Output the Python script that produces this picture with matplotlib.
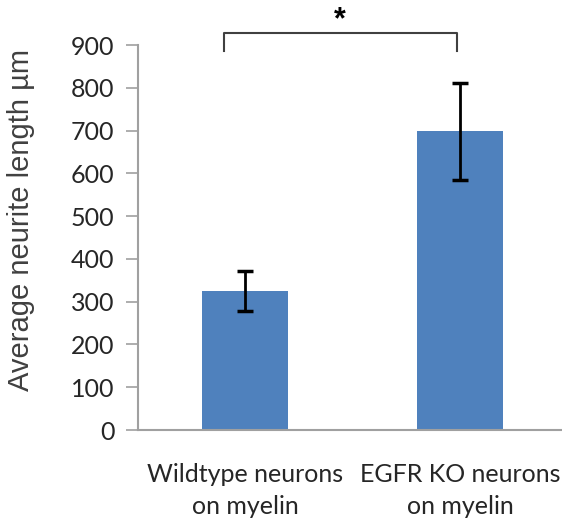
import matplotlib
matplotlib.use("Agg")
import matplotlib.pyplot as plt

# Values
categories = ["Wildtype neurons\non myelin", "EGFR KO neurons\non myelin"]
means = [325, 698]
errors = [47, 113]
yticks = [0, 100, 200, 300, 400, 500, 600, 700, 800, 900]
bracket_y = 928
bracket_drop = 885

BAR_COLOR = "#4F81BD"
AXIS_COLOR = "#A0A0A0"
TEXT_COLOR = "#262626"

plt.rcParams["font.family"] = ["Lato", "DejaVu Sans"]

fig = plt.figure(figsize=(5.62, 5.22), dpi=100)
ax = fig.add_axes([138 / 562, 92 / 522, 430 / 562, 385 / 522])

x = list(range(len(categories)))
ax.bar(x, means, width=0.4, color=BAR_COLOR, zorder=2)
ax.errorbar(x, means, yerr=errors, fmt="none", ecolor="black",
            elinewidth=2, capsize=6, capthick=2.5, zorder=3)

ax.set_xlim(-0.5, 1.5)
ax.set_ylim(0, 900)
ax.set_yticks(yticks)
ax.set_xticks(x)
ax.set_xticklabels(categories, fontsize=18, color=TEXT_COLOR, linespacing=1.45)
ax.tick_params(axis="x", length=0, pad=24)
ax.tick_params(axis="y", labelsize=18, labelcolor=TEXT_COLOR, color=AXIS_COLOR,
               length=9, width=1.2, pad=8)

for side in ["top", "right"]:
    ax.spines[side].set_visible(False)
for side in ["left", "bottom"]:
    ax.spines[side].set_color(AXIS_COLOR)
    ax.spines[side].set_linewidth(1.5)

ax.set_ylabel("Average neurite length µm", fontsize=21, color="#404040",
              family=["Liberation Sans", "DejaVu Sans"])
ax.yaxis.set_label_coords(-0.24, 0.545)

# significance bracket
ax.plot([-0.1, -0.1, 0.985, 0.985],
        [bracket_drop, bracket_y, bracket_y, bracket_drop],
        color="#404040", lw=1.5, clip_on=False, zorder=4)
ax.text(0.44, 958, "*", ha="center", va="center", fontsize=22,
        fontweight="bold", color="black", clip_on=False,
        family=["Liberation Sans", "DejaVu Sans"])

fig.savefig("out.png", dpi=100)
